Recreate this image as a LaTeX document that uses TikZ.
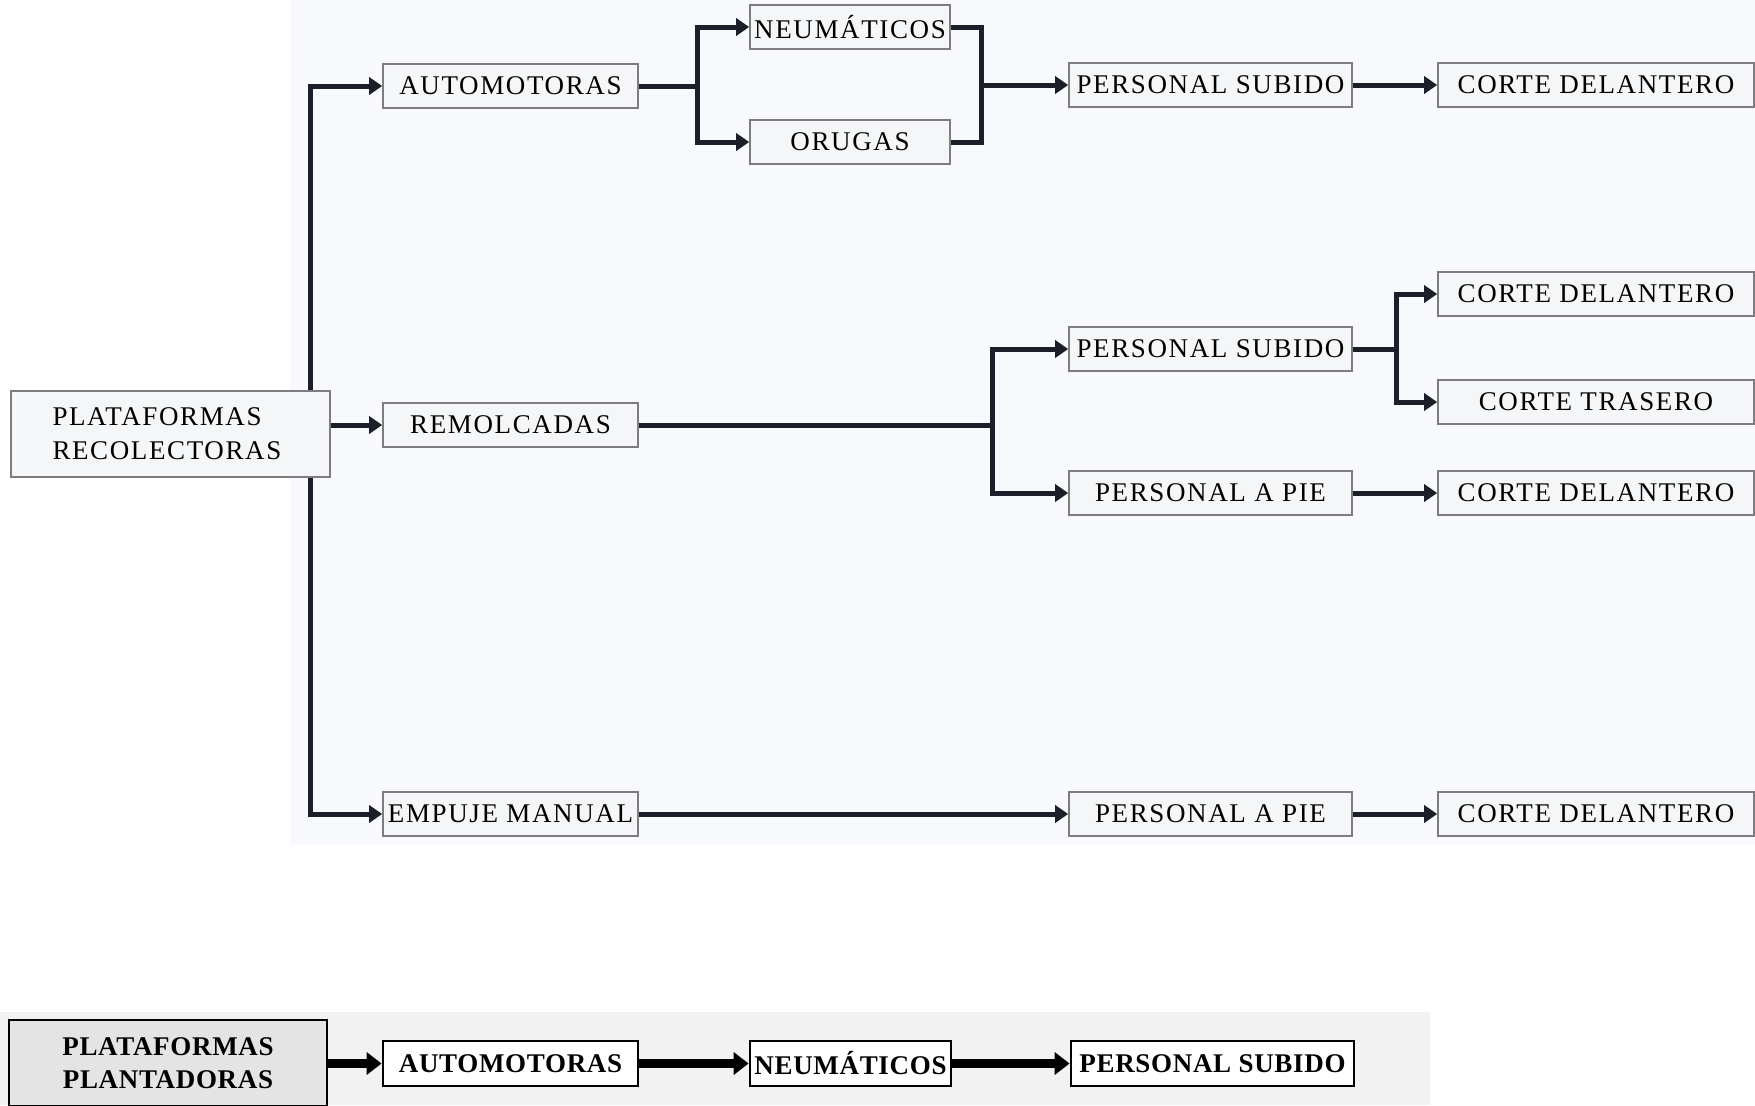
\documentclass[tikz,border=0pt]{standalone}
\usepackage{fontspec}
\usepackage{tikz}
\usetikzlibrary{arrows.meta,positioning,calc}
\newfontfamily\letra[LetterSpace=6]{Liberation Serif}
\newfontfamily\letrab[LetterSpace=2.5]{Liberation Serif}
\definecolor{tinta}{RGB}{28,30,42}
\definecolor{fondo}{RGB}{247,249,252}
\definecolor{cajafondo}{RGB}{244,246,248}
\definecolor{borde}{RGB}{125,125,128}
\definecolor{grisfondo}{RGB}{242,242,242}
\definecolor{grisplant}{RGB}{228,228,228}

\begin{document}
\begin{tikzpicture}[x=0.5pt, y=-0.5pt,
        caja/.style={rectangle, draw=borde, line width=0.8pt, fill=cajafondo, inner sep=0pt,
                     minimum height=22pt, font=\letra\fontsize{13.5}{17}\selectfont},
        cajab/.style={rectangle, draw=black, line width=1.4pt, fill=white, inner sep=0pt,
                      minimum height=22.5pt, font=\letrab\bfseries\fontsize{13.5}{16.5}\selectfont},
        flecha/.style={-{Triangle[length=6.5pt,width=8.5pt]}, line width=2.5pt, tinta},
        linea/.style={line width=2.5pt, tinta},
        flechab/.style={-{Triangle[length=7.5pt,width=11pt]}, line width=4.5pt, black}
    ]
    \useasboundingbox (0,0) rectangle (1755,1105);
    \clip (0,0) rectangle (1755,1105);
    \fill[fondo] (290,0) rectangle (1755,845);
    \fill[grisfondo] (0,1012) rectangle (1430,1105);

    % recolectoras
    \node[caja, minimum height=43pt, align=left, text width=118pt, inner xsep=20.75pt]
      (reco) at (170.5,434) {PLATAFORMAS\\RECOLECTORAS};

    \node[caja, minimum width=127.5pt] (auto) at (510.5,86) {AUTOMOTORAS};
    \node[caja, minimum width=127.5pt] (remol) at (510.5,425) {REMOLCADAS};
    \node[caja, minimum width=127.5pt] (empuje) at (510.5,814) {EMPUJE MANUAL};

    \node[caja, minimum width=100pt] (neum) at (850,27) {NEUMÁTICOS};
    \node[caja, minimum width=100pt] (oruga) at (850,142) {ORUGAS};

    \node[caja, minimum width=141.5pt] (psub1) at (1210.5,85) {PERSONAL SUBIDO};
    \node[caja, minimum width=141.5pt] (psub2) at (1210.5,349) {PERSONAL SUBIDO};
    \node[caja, minimum width=141.5pt] (ppie1) at (1210.5,493) {PERSONAL A PIE};
    \node[caja, minimum width=141.5pt] (ppie2) at (1210.5,814) {PERSONAL A PIE};

    \node[caja, minimum width=158pt] (cdel1) at (1596,85) {CORTE DELANTERO};
    \node[caja, minimum width=158pt] (cdel2) at (1596,294) {CORTE DELANTERO};
    \node[caja, minimum width=158pt] (ctras) at (1596,402) {CORTE TRASERO};
    \node[caja, minimum width=158pt] (cdel3) at (1596,493) {CORTE DELANTERO};
    \node[caja, minimum width=158pt] (cdel4) at (1596,814) {CORTE DELANTERO};

    \draw[flecha] ([xshift=-10pt]reco.north east) |- (auto);
    \draw[flecha] (reco.east |- remol) -- (remol);
    \draw[flecha] ([xshift=-10pt]reco.south east) |- (empuje);

    \draw[flecha] (auto.east) -- ++(29.5pt,0) |- (neum);
    \draw[flecha] (auto.east) -- ++(29.5pt,0) |- (oruga);
    \draw[linea] (neum.east) -- ++(15.5pt,0) coordinate (j1) |- (oruga.east);
    \draw[flecha] (j1 |- psub1) -- (psub1);
    \draw[flecha] (psub1) -- (cdel1);

    \draw[linea] (remol.east) -- ++(177pt,0) coordinate (f2);
    \draw[flecha] (f2) |- (psub2);
    \draw[flecha] (f2) |- (ppie1);
    \draw[flecha] (psub2.east) -- ++(22pt,0) coordinate (f3) |- (cdel2);
    \draw[flecha] (f3) |- (ctras);
    \draw[flecha] (ppie1) -- (cdel3);

    \draw[flecha] (empuje) -- (ppie2);
    \draw[flecha] (ppie2) -- (cdel4);

    % plantadoras
    \node[cajab, fill=grisplant, minimum width=159pt, minimum height=43pt, align=center]
      (plant) at (168,1063) {PLATAFORMAS\\PLANTADORAS};
    \node[cajab, minimum width=127.5pt] (auto2) at (510.5,1063.5) {AUTOMOTORAS};
    \node[cajab, minimum width=100.5pt] (neum2) at (850.5,1063.5) {NEUMÁTICOS};
    \node[cajab, minimum width=141.5pt] (psub3) at (1212.5,1063.5) {PERSONAL SUBIDO};

    \draw[flechab] (plant.east |- auto2) -- (auto2);
    \draw[flechab] (auto2) -- (neum2);
    \draw[flechab] (neum2) -- (psub3);
\end{tikzpicture}
\end{document}
